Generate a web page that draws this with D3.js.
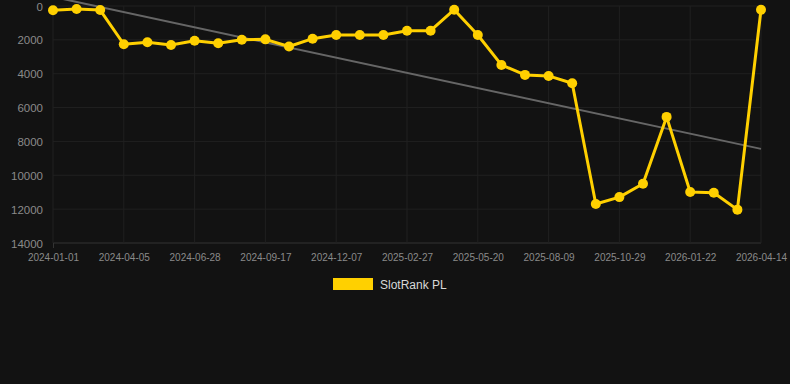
<!DOCTYPE html>
<html>
<head>
<meta charset="utf-8">
<script src="https://cdn.jsdelivr.net/npm/d3@7"></script>
<style>
  html, body { margin: 0; padding: 0; background: #121212; }
  svg { display: block; font-family: "Liberation Sans", Arial, sans-serif; }
</style>
</head>
<body>
<div id="chart"></div>
<script>
// dates on the x axis (every third one gets a label)
var dates = [
  "2024-01-01", "2024-02-02", "2024-03-05", "2024-04-05", "2024-05-03", "2024-05-31",
  "2024-06-28", "2024-07-25", "2024-08-21", "2024-09-17", "2024-10-14", "2024-11-10",
  "2024-12-07", "2025-01-03", "2025-01-31", "2025-02-27", "2025-03-26", "2025-04-22",
  "2025-05-20", "2025-06-16", "2025-07-13", "2025-08-09", "2025-09-05", "2025-10-02",
  "2025-10-29", "2025-11-26", "2025-12-24", "2026-01-22", "2026-02-18", "2026-03-17",
  "2026-04-14"
];

// rank values
var ranks = [
  250, 180, 240, 2260, 2140, 2300, 2050, 2200, 1990, 1970, 2390, 1930,
  1710, 1710, 1710, 1460, 1460, 220, 1710, 3480, 4070, 4130, 4560, 11700,
  11290, 10500, 6550, 10990, 11030, 12030, 220
];

// trend line, first and last point
var trendDates = ["2024-01-01", "2026-04-14"];
var trendValues = [-540, 8440];

var yTicks = [0, 2000, 4000, 6000, 8000, 10000, 12000, 14000];
var seriesName = "SlotRank PL";

var width = 790,
    height = 384;
var margin = {left: 53, right: 29, top: 6, bottom: 141};

var svg = d3.select("#chart").append("svg")
    .attr("width", width)
    .attr("height", height);

var x = d3.scalePoint()
    .domain(dates)
    .range([margin.left, width - margin.right]);

var y = d3.scaleLinear()
    .domain([0, 14000])
    .range([margin.top, height - margin.bottom]);

var labelDates = dates.filter(function(d, i) { return i % 3 === 0; });

// grid
var grid = svg.append("g");
grid.selectAll(".hgrid")
  .data(yTicks)
  .enter()
  .append("line")
  .attr("x1", margin.left)
  .attr("x2", width - margin.right)
  .attr("y1", function(d) { return y(d); })
  .attr("y2", function(d) { return y(d); })
  .style("stroke", function(d) { return d === 14000 ? "#333" : "#202020"; })
  .style("stroke-width", 1);

grid.selectAll(".vgrid")
  .data(labelDates)
  .enter()
  .append("line")
  .attr("x1", function(d) { return x(d); })
  .attr("x2", function(d) { return x(d); })
  .attr("y1", margin.top)
  .attr("y2", y(14000))
  .style("stroke", "#202020")
  .style("stroke-width", 1);

// y axis labels
var yAxis = d3.axisLeft(y).tickValues(yTicks).tickFormat(d3.format("d")).tickSize(0).tickPadding(10);
var gy = svg.append("g")
  .attr("transform", "translate(" + margin.left + ",0)")
  .call(yAxis);
gy.select(".domain").remove();
gy.selectAll("text")
  .style("fill", "#8a8a8a")
  .style("font-size", "11.5px")
  .attr("dy", "0.35em");

// x axis labels
var xAxis = d3.axisBottom(x).tickValues(labelDates).tickSize(5).tickPadding(6);
var gx = svg.append("g")
  .attr("transform", "translate(0," + y(14000) + ")")
  .call(xAxis);
gx.select(".domain").remove();
gx.selectAll("line").style("stroke", function(d, i) { return i === 0 ? "#333" : "none"; });
gx.selectAll("text")
  .style("fill", "#8a8a8a")
  .style("font-size", "10px");

// trend line
var trendLine = d3.line()
  .x(function(d) { return x(d[0]); })
  .y(function(d) { return y(d[1]); });

svg.append("path")
  .datum(trendDates.map(function(d, i) { return [d, trendValues[i]]; }))
  .attr("d", trendLine)
  .style("fill", "none")
  .style("stroke", "#666")
  .style("stroke-width", 2);

// series
var points = dates.map(function(d, i) { return [d, ranks[i]]; });

var line = d3.line()
  .x(function(d) { return x(d[0]); })
  .y(function(d) { return y(d[1]); });

svg.append("path")
  .datum(points)
  .attr("d", line)
  .style("fill", "none")
  .style("stroke", "#ffd000")
  .style("stroke-width", 3)
  .style("stroke-linejoin", "round");

svg.selectAll(".dot")
  .data(points)
  .enter()
  .append("circle")
  .attr("cx", function(d) { return x(d[0]); })
  .attr("cy", function(d) { return y(d[1]); })
  .attr("r", 5)
  .style("fill", "#ffd000");

// legend
var legend = svg.append("g");
legend.append("rect")
  .attr("x", 333)
  .attr("y", 278)
  .attr("width", 40)
  .attr("height", 12)
  .style("fill", "#ffd000");
legend.append("text")
  .attr("x", 380)
  .attr("y", 288.5)
  .text(seriesName)
  .style("fill", "#d8d8d8")
  .style("font-size", "12px");
</script>
</body>
</html>
